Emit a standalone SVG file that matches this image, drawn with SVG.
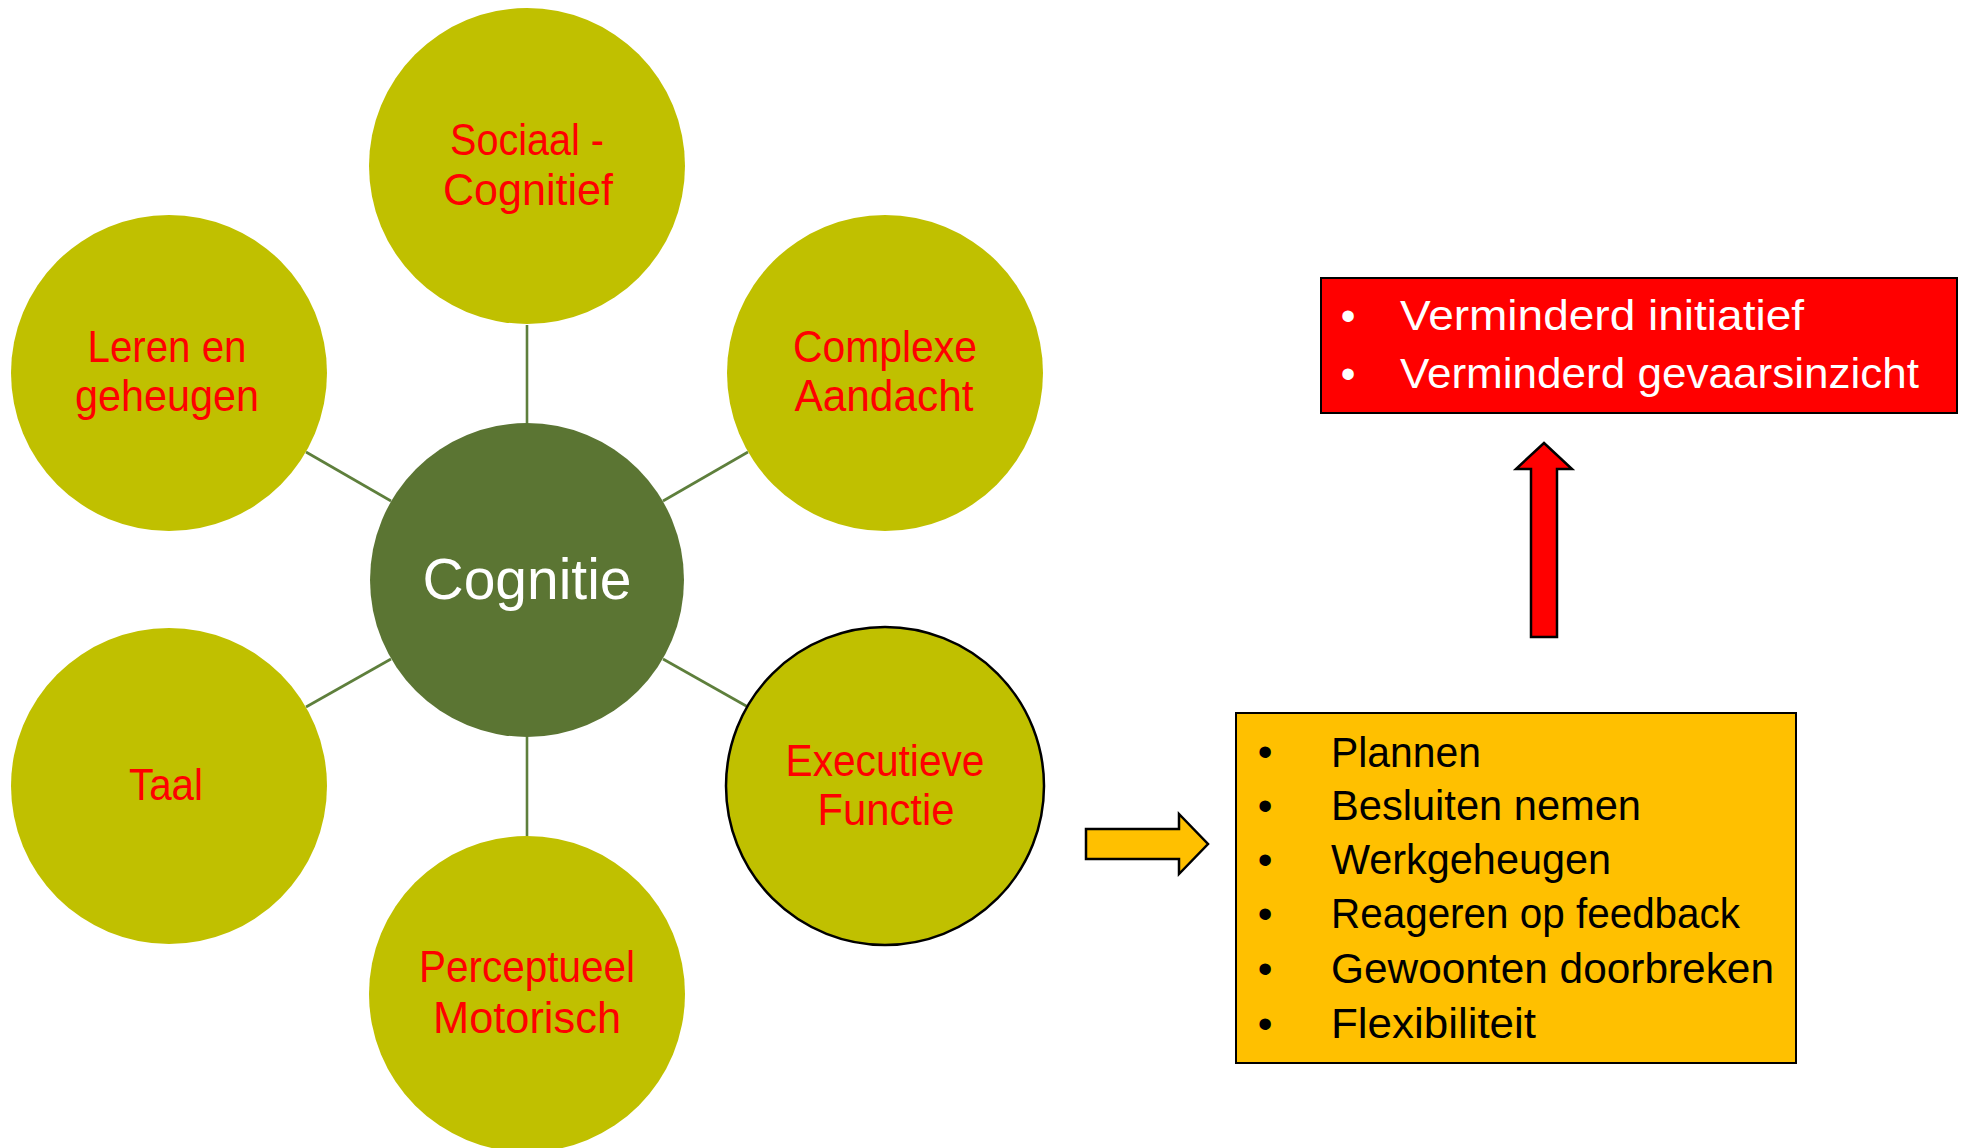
<svg xmlns="http://www.w3.org/2000/svg" width="1964" height="1148" viewBox="0 0 1964 1148">
  <style>
    .outer { fill: #C0C000; }
    .core { fill: #5B7533; }
    .lbl { font-family: "Liberation Sans", Arial, sans-serif; font-size: 44px; fill: #FF0000; text-anchor: middle; }
    .core-lbl { font-family: "Liberation Sans", Arial, sans-serif; font-size: 58px; fill: #FFFFFF; text-anchor: middle; }
    .link { stroke: #5E7F3C; stroke-width: 2.6; fill: none; }
    .box-txt { font-family: "Liberation Sans", Arial, sans-serif; font-size: 42px; }
    .bullet { font-family: "Liberation Sans", Arial, sans-serif; font-size: 42px; text-anchor: middle; }
  </style>
  <rect width="1964" height="1148" fill="#FFFFFF"/>

  <!-- spokes between the hub and the satellite circles -->
  <g id="connectors">
    <line class="link" x1="527" y1="325" x2="527" y2="423"/>
    <line class="link" x1="527" y1="737" x2="527" y2="836"/>
    <line class="link" x1="306" y1="452" x2="391" y2="501"/>
    <line class="link" x1="748" y1="452" x2="663" y2="501"/>
    <line class="link" x1="306" y1="707" x2="391" y2="659"/>
    <line class="link" x1="748" y1="707" x2="663" y2="659"/>
  </g>

  <g id="sociaal-cognitief">
    <circle class="outer" cx="527" cy="166" r="158"/>
    <text class="lbl" x="527" y="155" textLength="154" lengthAdjust="spacingAndGlyphs">Sociaal -</text>
    <text class="lbl" x="528" y="205" textLength="170" lengthAdjust="spacingAndGlyphs">Cognitief</text>
  </g>

  <g id="leren-geheugen">
    <circle class="outer" cx="169" cy="373" r="158"/>
    <text class="lbl" x="167" y="362" textLength="159" lengthAdjust="spacingAndGlyphs">Leren en</text>
    <text class="lbl" x="167" y="411" textLength="184" lengthAdjust="spacingAndGlyphs">geheugen</text>
  </g>

  <g id="complexe-aandacht">
    <circle class="outer" cx="885" cy="373" r="158"/>
    <text class="lbl" x="885" y="362" textLength="184" lengthAdjust="spacingAndGlyphs">Complexe</text>
    <text class="lbl" x="884" y="411" textLength="179" lengthAdjust="spacingAndGlyphs">Aandacht</text>
  </g>

  <g id="taal">
    <circle class="outer" cx="169" cy="786" r="158"/>
    <text class="lbl" x="166" y="800" textLength="74" lengthAdjust="spacingAndGlyphs">Taal</text>
  </g>

  <g id="executieve-functie">
    <circle class="outer" cx="885" cy="786" r="159" stroke="#000000" stroke-width="2.5"/>
    <text class="lbl" x="885" y="776" textLength="199" lengthAdjust="spacingAndGlyphs">Executieve</text>
    <text class="lbl" x="886" y="825" textLength="137" lengthAdjust="spacingAndGlyphs">Functie</text>
  </g>

  <g id="perceptueel-motorisch">
    <circle class="outer" cx="527" cy="994" r="158"/>
    <text class="lbl" x="527" y="982" textLength="216" lengthAdjust="spacingAndGlyphs">Perceptueel</text>
    <text class="lbl" x="527" y="1033" textLength="188" lengthAdjust="spacingAndGlyphs">Motorisch</text>
  </g>

  <g id="cognitie">
    <circle class="core" cx="527" cy="580" r="157"/>
    <text class="core-lbl" x="527" y="599" textLength="209" lengthAdjust="spacingAndGlyphs">Cognitie</text>
  </g>

  <!-- block arrow pointing to the list of executive functions -->
  <g id="arrow-right">
    <polygon points="1086,829 1179,829 1179,814 1208,844 1179,874 1179,859 1086,859" fill="#FFC000" stroke="#000000" stroke-width="2.5" stroke-linejoin="miter"/>
  </g>

  <g id="executive-list">
    <rect x="1236" y="713" width="560" height="350" fill="#FFC000" stroke="#000000" stroke-width="2"/>
    <text class="bullet" x="1265" y="766" fill="#000000">•</text>
    <text class="box-txt" x="1331" y="767" fill="#000000" textLength="150" lengthAdjust="spacingAndGlyphs">Plannen</text>
    <text class="bullet" x="1265" y="820" fill="#000000">•</text>
    <text class="box-txt" x="1331" y="820" fill="#000000" textLength="310" lengthAdjust="spacingAndGlyphs">Besluiten nemen</text>
    <text class="bullet" x="1265" y="874" fill="#000000">•</text>
    <text class="box-txt" x="1331" y="874" fill="#000000" textLength="280" lengthAdjust="spacingAndGlyphs">Werkgeheugen</text>
    <text class="bullet" x="1265" y="928" fill="#000000">•</text>
    <text class="box-txt" x="1331" y="928" fill="#000000" textLength="409" lengthAdjust="spacingAndGlyphs">Reageren op feedback</text>
    <text class="bullet" x="1265" y="983" fill="#000000">•</text>
    <text class="box-txt" x="1331" y="983" fill="#000000" textLength="443" lengthAdjust="spacingAndGlyphs">Gewoonten doorbreken</text>
    <text class="bullet" x="1265" y="1038" fill="#000000">•</text>
    <text class="box-txt" x="1331" y="1038" fill="#000000" textLength="205" lengthAdjust="spacingAndGlyphs">Flexibiliteit</text>
  </g>

  <!-- upward block arrow leading to the consequences -->
  <g id="arrow-up">
    <polygon points="1544,443 1572,469 1557,469 1557,637 1531,637 1531,469 1516,469" fill="#FF0000" stroke="#000000" stroke-width="2.5" stroke-linejoin="miter"/>
  </g>

  <g id="consequences">
    <rect x="1321" y="278" width="636" height="135" fill="#FF0000" stroke="#000000" stroke-width="2"/>
    <text class="bullet" x="1348" y="330" fill="#FFFFFF">•</text>
    <text class="box-txt" x="1400" y="330" fill="#FFFFFF" textLength="404" lengthAdjust="spacingAndGlyphs">Verminderd initiatief</text>
    <text class="bullet" x="1348" y="388" fill="#FFFFFF">•</text>
    <text class="box-txt" x="1400" y="388" fill="#FFFFFF" textLength="519" lengthAdjust="spacingAndGlyphs">Verminderd gevaarsinzicht</text>
  </g>
</svg>
